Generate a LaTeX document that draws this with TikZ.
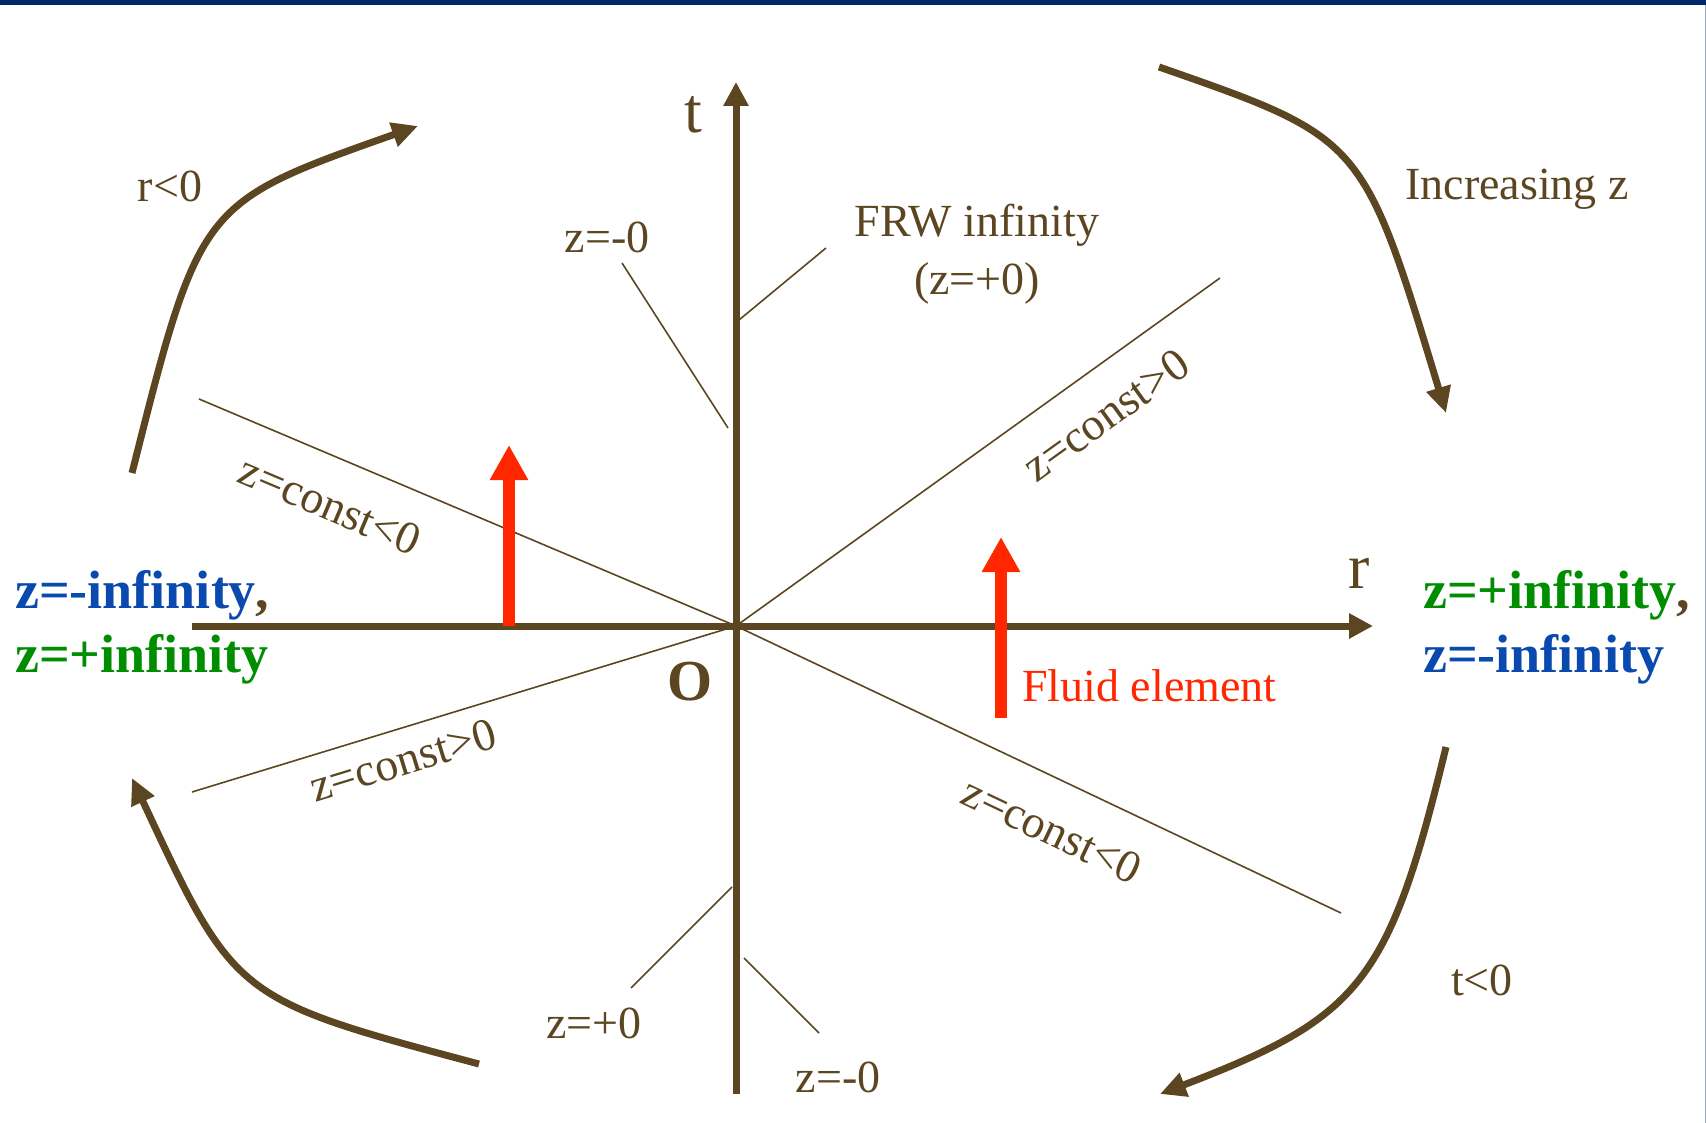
\documentclass[tikz,border=0pt]{standalone}
\usepackage{fontspec}
\setmainfont{Liberation Serif}
\usetikzlibrary{arrows.meta}
\definecolor{axisbrown}{HTML}{5B4621}
\definecolor{fluidred}{HTML}{FF2600}
\definecolor{infblue}{HTML}{0A4AAE}
\definecolor{infgreen}{HTML}{008E00}
\definecolor{barnavy}{HTML}{00296B}
\definecolor{edgegray}{HTML}{9AA8C0}

\begin{document}
\begin{tikzpicture}[x=1pt, y=-1pt, line join=round,
    axis/.style={draw=axisbrown, line width=7pt, -{Triangle[length=24pt,width=24pt]}},
    guide/.style={draw=axisbrown, line width=1.6pt},
    flow/.style={draw=axisbrown, line width=7pt, -{Triangle[length=26pt,width=24pt]}},
    fluid/.style={draw=fluidred, line width=12pt, -{Triangle[length=35pt,width=36pt]}},
    lbl/.style={text=axisbrown, inner sep=0pt, font=\fontsize{46}{58}\selectfont},
    bigl/.style={text=axisbrown, inner sep=0pt, font=\fontsize{64}{70}\selectfont},
    inflbl/.style={inner sep=0pt, font=\fontsize{54}{64}\selectfont\bfseries}]
  \useasboundingbox (0,0) rectangle (1706,1123);
  \fill[barnavy] (0,0) rectangle (1706,5);
  \draw[edgegray, line width=1pt] (1705.5,5) -- (1705.5,1123);

  % axes
  \coordinate (O) at (736,626);
  \coordinate (rl) at (192,626);
  \coordinate (rr) at (1373,626);
  \coordinate (tb) at (736,1094);
  \coordinate (tt) at (736,82);
  \draw[axis] (rl) -- (rr);
  \draw[axis] (tb) -- (tt);
  \node[bigl, anchor=base] (tlab) at (693,133) {t};
  \node[bigl, anchor=base] (rlab) at (1359,588) {r};
  \node[text=axisbrown, inner sep=0pt, font=\fontsize{58}{60}\selectfont\bfseries, anchor=base] (olab) at (690,700) {O};

  % z=const lines
  \coordinate (ul) at (199,399);
  \coordinate (ur) at (1220,278);
  \coordinate (ll) at (192,792);
  \coordinate (lr) at (1341,913);
  \draw[guide] (ul) -- (O);
  \draw[guide] (ur) -- (O);
  \draw[guide] (ll) -- (O);
  \draw[guide] (lr) -- (O);
  \node[lbl, rotate=-22.9] (ulc) at (330,505) {z=const<0};
  \node[lbl, rotate=17] (llc) at (403,760) {z=const>0};
  \node[lbl, rotate=35.7] (urc) at (1106,415) {z=const>0};
  \node[lbl, rotate=-25.4] (lrc) at (1052,830) {z=const<0};

  % pointers to the t axis
  \node[lbl, anchor=base] (zmtop) at (607,253) {z=-0};
  \node[lbl, anchor=base] (frw) at (977,237) {FRW infinity};
  \node[lbl, anchor=base] (frwz) at (977,295) {(z=+0)};
  \node[lbl, anchor=base] (zpbot) at (594,1038) {z=+0};
  \node[lbl, anchor=base] (zmbot) at (838,1092) {z=-0};
  \coordinate (pa1) at (622,263);  \coordinate (pa2) at (728,428);
  \coordinate (pb1) at (826,248);  \coordinate (pb2) at (739,320);
  \coordinate (pc1) at (631,988);  \coordinate (pc2) at (732,887);
  \coordinate (pd1) at (744,958);  \coordinate (pd2) at (819,1033);
  \draw[guide] (pa1) -- (pa2);
  \draw[guide] (pb1) -- (pb2);
  \draw[guide] (pc1) -- (pc2);
  \draw[guide] (pd1) -- (pd2);

  % fluid elements
  \coordinate (fa1) at (509,626);  \coordinate (fa2) at (509,445);
  \coordinate (fb1) at (1001,718); \coordinate (fb2) at (1001,537);
  \draw[fluid] (fa1) -- (fa2);
  \draw[fluid] (fb1) -- (fb2);
  \node[text=fluidred, inner sep=0pt, font=\fontsize{46}{58}\selectfont, anchor=base west] (fluidlab) at (1022,701) {Fluid element};

  % infinities
  \node[inflbl, anchor=base west, text=infblue] (linfa) at (15,608) {z=-infinity\textcolor{axisbrown}{,}};
  \node[inflbl, anchor=base west, text=infgreen] (linfb) at (15,672) {z=+infinity};
  \node[inflbl, anchor=base west, text=infgreen] (rinfa) at (1423,608) {z=+infinity\textcolor{axisbrown}{,}};
  \node[inflbl, anchor=base west, text=infblue] (rinfb) at (1423,672) {z=-infinity};

  % increasing z
  \coordinate (ca1) at (132,473);  \coordinate (ca2) at (418,126);
  \coordinate (cb1) at (1159,67);  \coordinate (cb2) at (1446,413);
  \coordinate (cc1) at (1446,747); \coordinate (cc2) at (1160,1094);
  \coordinate (cd1) at (479,1064); \coordinate (cd2) at (132,778);
  \draw[flow] (ca1) .. controls (200,203) .. (ca2);
  \draw[flow] (cb1) .. controls (1363,138) .. (cb2);
  \draw[flow] (cc1) .. controls (1389,982) and (1361,1017) .. (cc2);
  \draw[flow] (cd1) .. controls (235,999) .. (cd2);
  \node[lbl, anchor=base] (rneg) at (170,202) {r<0};
  \node[lbl, anchor=base] (incz) at (1517,200) {Increasing z};
  \node[lbl, anchor=base] (tneg) at (1482,995) {t<0};
\end{tikzpicture}
\end{document}
